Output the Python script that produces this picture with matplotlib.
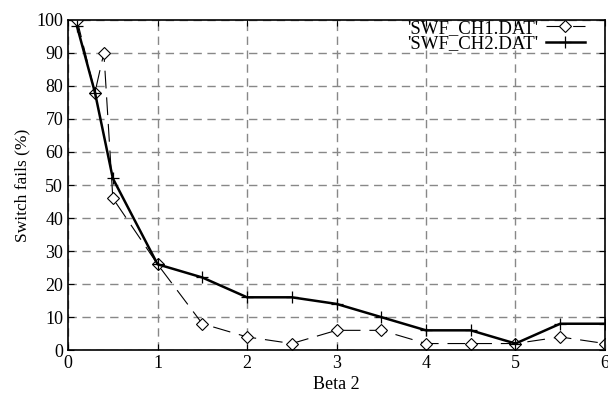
import matplotlib
matplotlib.use("Agg")
import matplotlib.pyplot as plt

plt.rcParams['font.family'] = ['Liberation Serif', 'DejaVu Serif']

ch1_x = [0.1, 0.3, 0.4, 0.5, 1.0, 1.5, 2.0, 2.5, 3.0, 3.5, 4.0, 4.5, 5.0, 5.5, 6.0]
ch1_y = [100, 78, 90, 46, 26, 8, 4, 2, 6, 6, 2, 2, 2, 4, 2]
ch2_x = [0.1, 0.3, 0.5, 1.0, 1.5, 2.0, 2.5, 3.0, 3.5, 4.0, 4.5, 5.0, 5.5, 6.0]
ch2_y = [98, 78, 52, 26, 22, 16, 16, 14, 10, 6, 6, 2, 8, 8]
x_ticks = [0, 1, 2, 3, 4, 5, 6]
y_ticks = [0, 10, 20, 30, 40, 50, 60, 70, 80, 90, 100]

fig = plt.figure(figsize=(6.08, 3.97), dpi=100)
ax = fig.add_axes([0.112, 0.118, 0.883, 0.832])

ax.plot(ch1_x, ch1_y, color='black', lw=0.8, dashes=(16, 8), marker='D',
        markersize=6, markerfacecolor='white', markeredgecolor='black',
        markeredgewidth=0.8, label="'SWF_CH1.DAT'")
ax.plot(ch2_x, ch2_y, color='black', lw=1.8, marker='+', markersize=8,
        markeredgewidth=0.9, label="'SWF_CH2.DAT'")

ax.set_xlim(0, 6)
ax.set_ylim(0, 100)
ax.set_xticks(x_ticks)
ax.set_yticks(y_ticks)
ax.tick_params(direction='in', top=True, right=True, labelsize=13, length=4)
ax.grid(True, color='#888888', linestyle=(0, (6, 4)), lw=1.0)
ax.set_xlabel('Beta 2', fontsize=13, labelpad=3)
ax.set_ylabel('Switch fails (%)', fontsize=12.5)
for s in ax.spines.values():
    s.set_linewidth(1.2)

leg = ax.legend(loc='upper right', bbox_to_anchor=(0.963, 1.0), frameon=False,
                fontsize=13.5, markerfirst=False, handlelength=2.1,
                borderaxespad=0, borderpad=0, labelspacing=-0.08,
                handletextpad=0.4)

fig.savefig('out.png', dpi=100)
